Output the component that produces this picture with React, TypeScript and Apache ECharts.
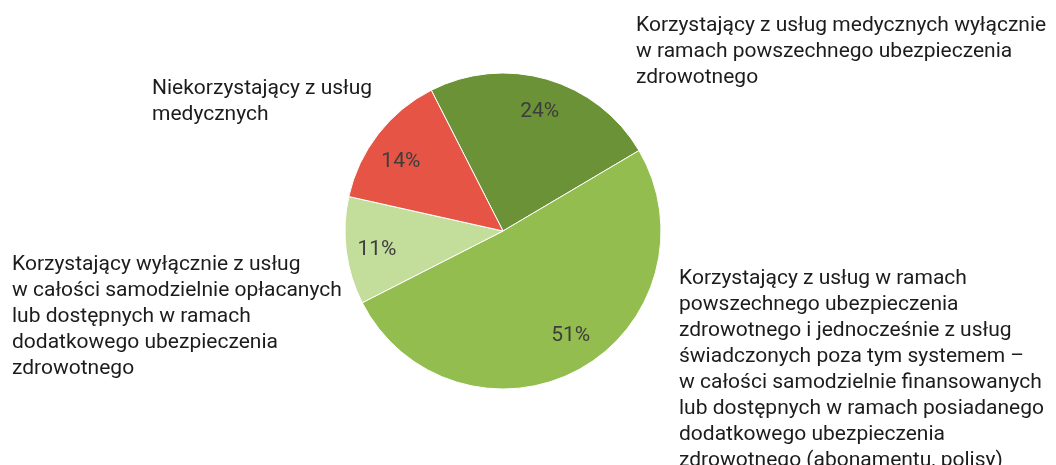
import React, { useEffect, useRef } from "react";
import * as echarts from "echarts";

const categories = [
  "Korzystający z usług medycznych wyłącznie\nw ramach powszechnego ubezpieczenia\nzdrowotnego",
  "Korzystający z usług w ramach\npowszechnego ubezpieczenia\nzdrowotnego i jednocześnie z usług\nświadczonych poza tym systemem –\nw całości samodzielnie finansowanych\nlub dostępnych w ramach posiadanego\ndodatkowego ubezpieczenia\nzdrowotnego (abonamentu, polisy)",
  "Korzystający wyłącznie z usług\nw całości samodzielnie opłacanych\nlub dostępnych w ramach\ndodatkowego ubezpieczenia\nzdrowotnego",
  "Niekorzystający z usług\nmedycznych",
];
const values = [24, 51, 11, 14];
const colors = ["#6b9236", "#93be4f", "#c3dd9b", "#e55444"];
const labelPos = [
  [636, 11],
  [679, 264],
  [12, 250],
  [152, 74],
];
// small nudges of the percentage labels [dx, dy]
const pctOffset = [
  [1, 2],
  [6, -9],
  [1, 1],
  [-1, 7],
];

export default function App() {
  const ref = useRef<HTMLDivElement>(null);
  useEffect(() => {
    if (!ref.current) return;
    const chart = echarts.init(ref.current, null, { renderer: "svg" });
    const data = values.map((v, i) => ({
      name: categories[i],
      value: v,
      itemStyle: { color: colors[i] },
    }));
    chart.setOption({
      animation: false,
      series: [
        {
          type: "pie",
          center: [503, 231],
          radius: [0, 158],
          startAngle: 117,
          clockwise: true,
          silent: true,
          itemStyle: { borderColor: "#ffffff", borderWidth: 1 },
          label: { show: false },
          labelLine: { show: false },
          data,
        },
        {
          type: "pie",
          center: [503, 231],
          radius: [92, 158],
          startAngle: 117,
          clockwise: true,
          silent: true,
          itemStyle: { color: "transparent", borderWidth: 0 },
          label: {
            show: true,
            position: "inside",
            formatter: (p: any) => `${p.value}%`,
            color: "#3d3d3d",
            fontFamily: "Roboto",
            fontSize: 21,
          },
          labelLine: { show: false },
          labelLayout: (p: any) => ({
            dx: pctOffset[p.dataIndex][0],
            dy: pctOffset[p.dataIndex][1],
          }),
          data: values.map((v, i) => ({ name: categories[i], value: v })),
        },
      ],
      graphic: categories.map((c, i) => ({
        type: "text",
        x: labelPos[i][0],
        y: labelPos[i][1],
        silent: true,
        style: {
          text: c,
          fill: "#1c1c1c",
          font: "21px Roboto",
          lineHeight: 26,
        },
      })),
    });
    return () => chart.dispose();
  }, []);
  return (
    <div
      ref={ref}
      style={{ position: "fixed", left: 0, top: 0, width: 1056, height: 465 }}
    />
  );
}
